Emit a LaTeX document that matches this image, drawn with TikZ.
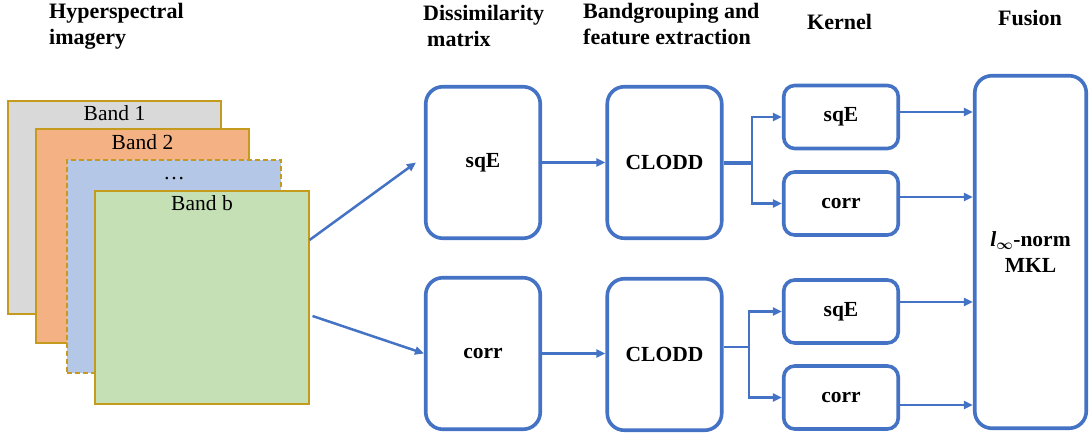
\documentclass[tikz,border=0pt]{standalone}
\usepackage{fontspec}
\setmainfont{Liberation Serif}[BoldFont={Liberation Serif Bold},ItalicFont={Liberation Serif Italic},BoldItalicFont={Liberation Serif Bold Italic}]
\usetikzlibrary{arrows.meta,calc}
\definecolor{bblue}{HTML}{4472C4}
\definecolor{gold}{RGB}{197,155,30}
\definecolor{bgray}{HTML}{D9D9D9}
\definecolor{borange}{HTML}{F4B183}
\definecolor{bblueL}{HTML}{B4C7E7}
\definecolor{bgreen}{HTML}{C5E0B4}
\tikzset{
  band/.style={draw=gold, line width=1.6pt, minimum width=213.5pt, minimum height=213.5pt, inner sep=0pt},
  bandlabel/.style={anchor=base, inner sep=0pt, font=\fontsize{21.5}{26}\selectfont},
  bigbox/.style={draw=bblue, line width=3.6pt, rounded corners=17pt, minimum width=114.5pt, minimum height=151.5pt, inner sep=0pt, font=\fontsize{21.5}{26}\selectfont\bfseries},
  kbox/.style={draw=bblue, line width=3.6pt, rounded corners=11pt, minimum width=114.5pt, minimum height=63pt, inner sep=0pt, font=\fontsize{21.5}{26}\selectfont\bfseries},
  fbox/.style={draw=bblue, line width=3.6pt, rounded corners=17pt, minimum width=111.5pt, minimum height=352.5pt, inner sep=0pt, align=center, font=\fontsize{21.5}{26}\selectfont\bfseries},
  header/.style={anchor=north west, inner sep=0pt, align=left, font=\fontsize{22}{26}\selectfont\bfseries},
  arr/.style={draw=bblue, line width=2.5pt, -{Triangle[length=9pt,width=8pt]}},
  ln/.style={draw=bblue, line width=2.5pt},
}
\begin{document}
\begin{tikzpicture}[x=1pt,y=-1pt]
\useasboundingbox (0,0) rectangle (1091,436);
% headers
\node[header] (h1) at (49,3) {Hyperspectral\\imagery};
\node[header] (h2) at (423,5) {Dissimilarity\\\hspace{4pt}matrix};
\node[header] (h3) at (583,3) {Bandgrouping and\\feature extraction};
\node[header] (h4) at (807,14) {Kernel};
\node[header] (h5) at (998,10) {Fusion};
% bands
\node[band, fill=bgray] (band1) at (114.5,207.5) {};
\node[bandlabel] (l1) at ([yshift=-21pt]band1.north) {Band 1};
\node[band, fill=borange] (band2) at (142.5,236) {};
\node[bandlabel] (l2) at ([yshift=-21pt]band2.north) {Band 2};
\node[band, fill=bblueL, dash pattern=on 5pt off 3pt] (band3) at (174,266.5) {};
\node[bandlabel] (l3) at ([yshift=-21pt]band3.north) {\dots};
\node[band, fill=bgreen] (bandb) at (202,297.5) {};
\node[bandlabel] (l4) at ([yshift=-21pt]bandb.north) {Band b};
% dissimilarity
\node[bigbox] (sqe) at (483,162.5) {sqE};
\node[bigbox] (corr) at (483,353.5) {corr};
% CLODD
\node[bigbox] (cl1) at (664.5,162.5) {CLODD};
\node[bigbox] (cl2) at (664.5,354.5) {CLODD};
% kernels
\node[kbox] (k1) at (841,117) {sqE};
\node[kbox] (k2) at (841,203.5) {corr};
\node[kbox] (k3) at (841,311.5) {sqE};
\node[kbox] (k4) at (841,397.5) {corr};
% fusion
\node[fbox] (fus) at (1030.5,252) {{\boldmath$\textit{l}_{\infty}$}-norm\\MKL};
% arrows from bands
\draw[arr] ([yshift=57.5pt]bandb.east) -- ([xshift=-8pt]sqe.west);
\draw[arr] ([xshift=3pt,yshift=-18.5pt]bandb.east) -- (corr.west);
% dissim -> CLODD
\draw[arr] (sqe.east) -- (sqe.east -| cl1.west);
\draw[arr] (corr.east) -- (corr.east -| cl2.west);
% branches
\coordinate (b1) at (752,162.5);
\coordinate (b2) at (749,347);
\draw[ln, line width=4pt] (cl1.east) -- (b1);
\draw[arr] (b1) |- (k1.west);
\draw[arr] (b1) |- (k2.west);
\draw[ln] ([yshift=7.5pt]cl2.east) -- (b2);
\draw[arr] (b2) |- (k3.west);
\draw[arr] (b2) |- (k4.west);
% kernels -> fusion
\draw[arr] ([yshift=5pt]k1.east) -- ([yshift=5pt]k1.east -| fus.west);
\draw[arr] ([yshift=6.5pt]k2.east) -- ([yshift=6.5pt]k2.east -| fus.west);
\draw[arr] ([yshift=9.5pt]k3.east) -- ([yshift=9.5pt]k3.east -| fus.west);
\draw[arr] ([yshift=-7.5pt]k4.east) -- ([yshift=-7.5pt]k4.east -| fus.west);
\end{tikzpicture}
\end{document}
